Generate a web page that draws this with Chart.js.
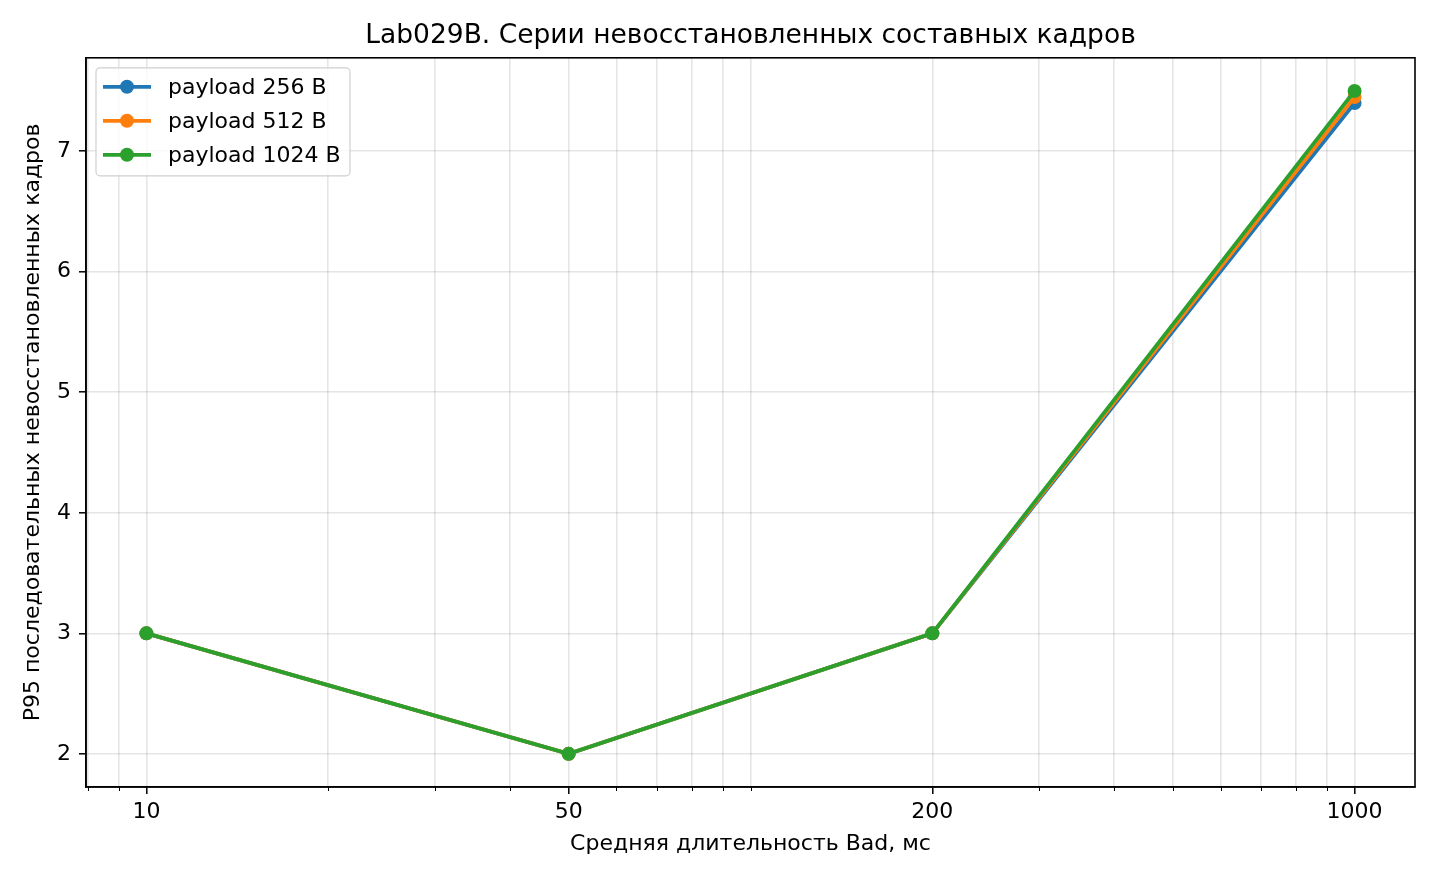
<!DOCTYPE html>
<html>
<head>
<meta charset="utf-8">
<script src="https://cdn.jsdelivr.net/npm/chart.js@4.4.1/dist/chart.umd.min.js"></script>
<style>
  html, body { margin: 0; padding: 0; background: #fff; }
  canvas { display: block; }
</style>
</head>
<body>
<canvas id="chart" width="1440" height="880"></canvas>
<script>
// Data
const durations = [10, 50, 200, 1000];
const seriesLabels = ['payload 256 B', 'payload 512 B', 'payload 1024 B'];
const p256 = [3, 2, 3, 7.4];
const p512 = [3, 2, 3, 7.45];
const p1024 = [3, 2, 3, 7.5];
const xTickLabels = [10, 50, 200, 1000];
const xGridValues = [8, 9, 10, 20, 30, 40, 50, 60, 70, 80, 90, 100, 200, 300, 400, 500, 600, 700, 800, 900, 1000];
const yTickValues = [2, 3, 4, 5, 6, 7];

const colors = ['#1f77b4', '#ff7f0e', '#2ca02c'];
const FONT = "'DejaVu Sans', sans-serif";
const GRID = 'rgba(0,0,0,0.1)';

const toPoints = arr => arr.map((v, i) => ({x: durations[i], y: v}));

// frame + minor ticks + legend, drawn the matplotlib way
const decorPlugin = {
    id: 'decor',
    afterDraw(chart) {
        const ctx = chart.ctx;
        const a = chart.chartArea;
        const xs = chart.scales.x;
        ctx.save();
        // minor ticks
        ctx.strokeStyle = '#000';
        ctx.lineWidth = 1;
        xGridValues.forEach(v => {
            if (xTickLabels.includes(v)) return;
            const px = Math.round(xs.getPixelForValue(v)) + 0.5;
            ctx.beginPath();
            ctx.moveTo(px, a.bottom);
            ctx.lineTo(px, a.bottom + 4);
            ctx.stroke();
        });
        // frame
        ctx.lineWidth = 1.6;
        ctx.strokeRect(a.left, a.top, a.right - a.left, a.bottom - a.top);

        // legend
        const bx = a.left + 10, by = a.top + 10, bw = 254, bh = 108;
        ctx.fillStyle = 'rgba(255,255,255,0.8)';
        ctx.strokeStyle = '#d0d0d0';
        ctx.lineWidth = 1.2;
        ctx.beginPath();
        ctx.roundRect(bx, by, bw, bh, 4);
        ctx.fill();
        ctx.stroke();
        ctx.font = '22px ' + FONT;
        ctx.textBaseline = 'middle';
        seriesLabels.forEach((label, i) => {
            const cy = by + 19 + i * 34;
            ctx.strokeStyle = colors[i];
            ctx.lineWidth = 3.8;
            ctx.beginPath();
            ctx.moveTo(bx + 7, cy);
            ctx.lineTo(bx + 55, cy);
            ctx.stroke();
            ctx.fillStyle = colors[i];
            ctx.beginPath();
            ctx.arc(bx + 31, cy, 7, 0, Math.PI * 2);
            ctx.fill();
            ctx.fillStyle = '#000';
            ctx.fillText(label, bx + 72, cy + 1);
        });
        ctx.restore();
    }
};

const datasets = [p256, p512, p1024].map((vals, i) => ({
    label: seriesLabels[i],
    data: toPoints(vals),
    borderColor: colors[i],
    backgroundColor: colors[i],
    borderWidth: 3.8,
    pointRadius: 7,
    pointHoverRadius: 7,
    pointBorderWidth: 0,
    fill: false,
    tension: 0,
    order: 2 - i
}));

new Chart(document.getElementById('chart'), {
    type: 'line',
    data: { datasets: datasets },
    plugins: [decorPlugin],
    options: {
        responsive: false,
        animation: false,
        devicePixelRatio: 1,
        layout: { padding: { top: 0, right: 25, bottom: 0, left: 0 } },
        plugins: {
            legend: { display: false },
            tooltip: { enabled: false },
            title: {
                display: true,
                fullSize: false,
                text: 'Lab029B. Серии невосстановленных составных кадров',
                color: '#000',
                font: { family: FONT, size: 26.5, weight: 'normal' },
                padding: { top: 20, bottom: 6 }
            }
        },
        scales: {
            x: {
                type: 'logarithmic',
                min: Math.pow(10, 0.9),
                max: Math.pow(10, 3.1),
                afterBuildTicks: scale => {
                    scale.ticks = xGridValues.map(v => ({ value: v }));
                },
                afterFit: scale => { scale.height = 93; },
                ticks: {
                    autoSkip: false,
                    maxRotation: 0,
                    color: '#000',
                    font: { family: FONT, size: 22 },
                    padding: 5,
                    callback: v => xTickLabels.includes(v) ? String(v) : ''
                },
                grid: {
                    color: GRID,
                    lineWidth: 1.6,
                    tickLength: 7,
                    tickColor: ctx => xTickLabels.includes(ctx.tick.value) ? '#000' : 'rgba(0,0,0,0)',
                    tickWidth: 1.5
                },
                border: { color: '#000', width: 1.6 },
                title: {
                    display: true,
                    text: 'Средняя длительность Bad, мс',
                    color: '#000',
                    font: { family: FONT, size: 22 },
                    padding: { top: 0, bottom: 23 }
                }
            },
            y: {
                type: 'linear',
                min: 1.725,
                max: 7.775,
                afterBuildTicks: scale => {
                    scale.ticks = yTickValues.map(v => ({ value: v }));
                },
                afterFit: scale => { scale.width = 86; },
                ticks: {
                    color: '#000',
                    font: { family: FONT, size: 22 },
                    padding: 8
                },
                grid: {
                    color: GRID,
                    lineWidth: 1.6,
                    tickLength: 7,
                    tickColor: '#000',
                    tickWidth: 1.5
                },
                border: { color: '#000', width: 1.6 },
                title: {
                    display: true,
                    text: 'P95 последовательных невосстановленных кадров',
                    color: '#000',
                    font: { family: FONT, size: 22 },
                    padding: { top: 20, bottom: 0 }
                }
            }
        }
    }
});
</script>
</body>
</html>
